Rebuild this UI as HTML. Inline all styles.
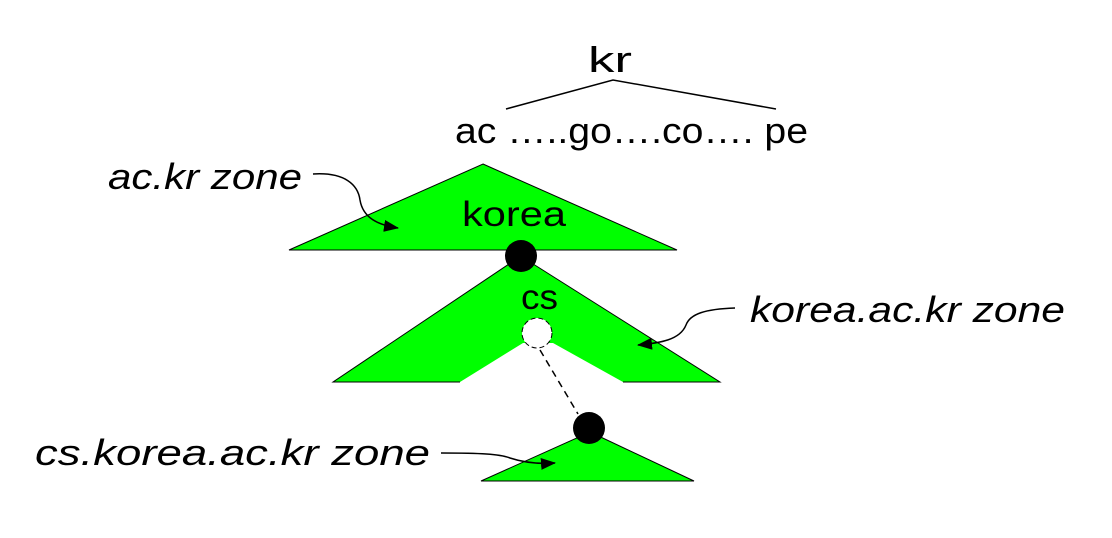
<!DOCTYPE html>
<html><head><meta charset="utf-8"><style>
html,body{margin:0;padding:0;background:#fff;}
svg{display:block;}
text{font-family:"Liberation Sans",sans-serif;fill:#000;}
</style></head><body>
<svg width="1112" height="538" viewBox="0 0 1112 538" xmlns="http://www.w3.org/2000/svg">
<defs>
<marker id="ah" markerWidth="15" markerHeight="12" refX="14" refY="6" orient="auto" markerUnits="userSpaceOnUse">
<path d="M0,0 L15,6 L0,12 Z" fill="#000"/></marker>
</defs>
<text x="588" y="72" font-size="36" textLength="44" lengthAdjust="spacingAndGlyphs">kr</text>
<polyline points="506,109 613,80 776,109" fill="none" stroke="#000" stroke-width="1.5"/>
<text x="455" y="143" font-size="36" textLength="353" lengthAdjust="spacingAndGlyphs">ac …..go….co…. pe</text>

<polygon points="483,164 677,250 289,250" fill="#00ff00" stroke="#000" stroke-width="1"/>
<text x="462" y="226" font-size="35" textLength="104" lengthAdjust="spacingAndGlyphs">korea</text>

<polygon points="512,262 530,262 720,382 623,382 553,343 523,343 460,382 333,382" fill="#00ff00" stroke="none"/>
<polyline points="512,262 333,382 460,382" fill="none" stroke="#000" stroke-width="1"/>
<polyline points="530,262 720,382 623,382" fill="none" stroke="#000" stroke-width="1"/>
<text x="521" y="309" font-size="35" textLength="37" lengthAdjust="spacingAndGlyphs">cs</text>

<line x1="540" y1="350" x2="578" y2="414" stroke="#000" stroke-width="1.5" stroke-dasharray="7,5"/>
<circle cx="537" cy="333" r="15" fill="#fff" stroke="#000" stroke-width="1" stroke-dasharray="5,3"/>

<polygon points="590,432 694,481 481,481" fill="#00ff00" stroke="#000" stroke-width="1"/>
<circle cx="521" cy="256" r="16" fill="#000"/>
<circle cx="589" cy="428" r="16" fill="#000"/>

<text x="108" y="189" font-size="36" font-style="italic" textLength="194" lengthAdjust="spacingAndGlyphs">ac.kr zone</text>
<path d="M313,174 C345,172 358,185 360,200 C363,218 378,225 398,228" fill="none" stroke="#000" stroke-width="1.5" marker-end="url(#ah)"/>

<text x="750" y="322" font-size="36" font-style="italic" textLength="315" lengthAdjust="spacingAndGlyphs">korea.ac.kr zone</text>
<path d="M735,308 C705,309 690,314 686,325 C680,340 660,343 638,345" fill="none" stroke="#000" stroke-width="1.5" marker-end="url(#ah)"/>

<text x="35" y="465" font-size="36" font-style="italic" textLength="395" lengthAdjust="spacingAndGlyphs">cs.korea.ac.kr zone</text>
<path d="M441,453 C480,453 500,454 510,458 C525,463 540,464 555,463" fill="none" stroke="#000" stroke-width="1.5" marker-end="url(#ah)"/>
</svg>
</body></html>
